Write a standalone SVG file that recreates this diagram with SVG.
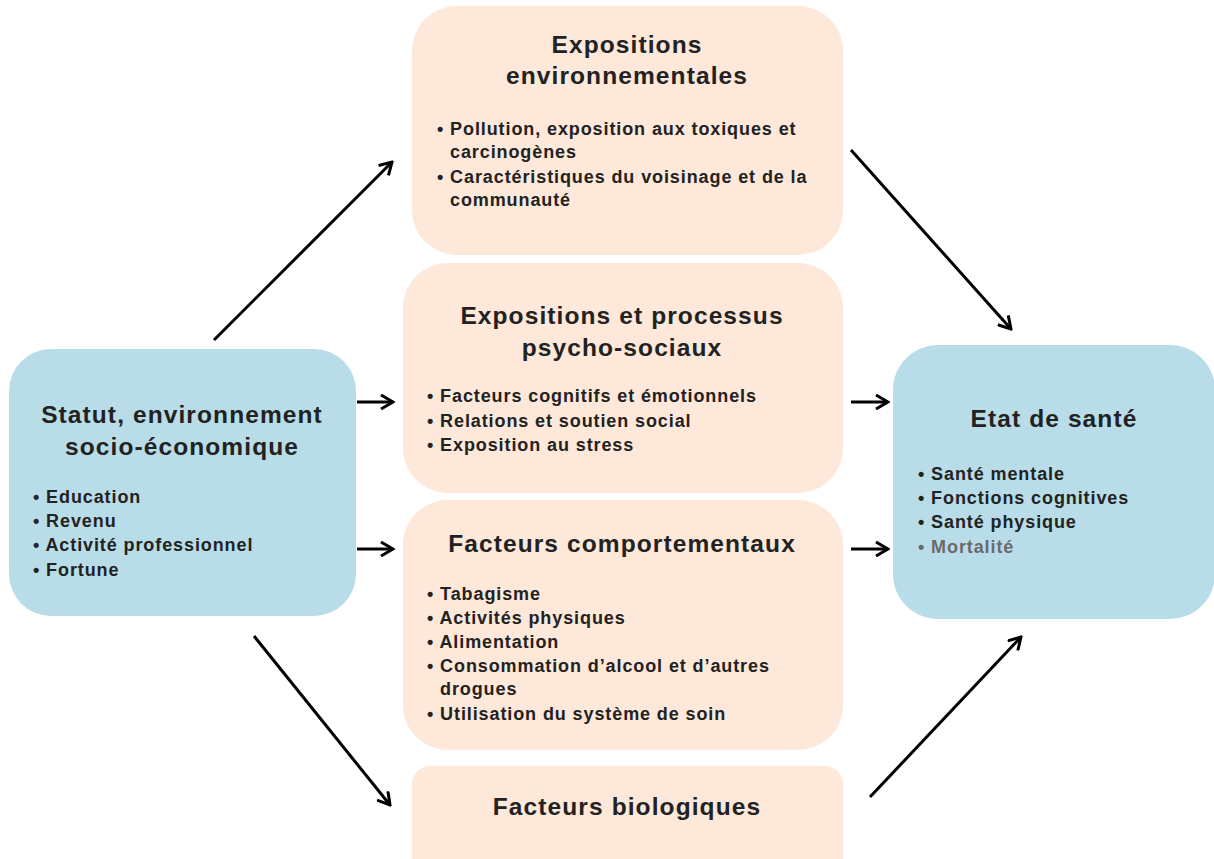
<svg xmlns="http://www.w3.org/2000/svg" width="1214" height="859" viewBox="0 0 1214 859">
<style>
.blue{fill:#b8dde8}
.peach{fill:#fde8d9}
.t{font-family:"Liberation Sans",Arial,Helvetica,sans-serif;font-weight:bold;font-size:24.5px;letter-spacing:1.1px;fill:#222;text-anchor:middle}
.b{font-family:"Liberation Sans",Arial,Helvetica,sans-serif;font-weight:bold;font-size:18px;letter-spacing:0.9px;fill:#222}
.g{fill:#6a6a6a}
.c{stroke:#000;stroke-width:3;fill:none}
</style>
<defs>
<marker id="ah" viewBox="0 0 16 16" refX="14" refY="8" markerWidth="16" markerHeight="16" markerUnits="userSpaceOnUse" orient="auto">
<path d="M2,1 L14,8 L2,15" fill="none" stroke="#000" stroke-width="3"/>
</marker>
</defs>
<rect width="1214" height="859" fill="#fff"/>
<g id="statut">
<rect class="blue" x="9" y="349" width="347" height="267" rx="42"/>
<text class="t" x="182" y="423">Statut, environnement</text>
<text class="t" x="182" y="455">socio-économique</text>
<text class="b" x="33" y="503">• Education</text>
<text class="b" x="33" y="527">• Revenu</text>
<text class="b" x="33" y="551">• Activité professionnel</text>
<text class="b" x="33" y="576">• Fortune</text>
</g>
<g id="env">
<rect class="peach" x="412" y="6" width="431" height="249" rx="45"/>
<text class="t" x="627" y="53">Expositions</text>
<text class="t" x="627" y="84">environnementales</text>
<text class="b" x="437" y="135">• Pollution, exposition aux toxiques et</text>
<text class="b" x="450" y="158">carcinogènes</text>
<text class="b" x="437" y="183">• Caractéristiques du voisinage et de la</text>
<text class="b" x="450" y="206">communauté</text>
</g>
<g id="psycho">
<rect class="peach" x="403" y="263" width="440" height="230" rx="45"/>
<text class="t" x="622" y="324">Expositions et processus</text>
<text class="t" x="622" y="356">psycho-sociaux</text>
<text class="b" x="427" y="402">• Facteurs cognitifs et émotionnels</text>
<text class="b" x="427" y="427">• Relations et soutien social</text>
<text class="b" x="427" y="451">• Exposition au stress</text>
</g>
<g id="comport">
<rect class="peach" x="403" y="500" width="440" height="250" rx="45"/>
<text class="t" x="622" y="552">Facteurs comportementaux</text>
<text class="b" x="427" y="600">• Tabagisme</text>
<text class="b" x="427" y="624">• Activités physiques</text>
<text class="b" x="427" y="648">• Alimentation</text>
<text class="b" x="427" y="672">• Consommation d’alcool et d’autres</text>
<text class="b" x="440" y="695">drogues</text>
<text class="b" x="427" y="720">• Utilisation du système de soin</text>
</g>
<g id="bio">
<rect class="peach" x="412" y="766" width="431" height="110" rx="18"/>
<text class="t" x="627" y="815">Facteurs biologiques</text>
</g>
<g id="sante">
<rect class="blue" x="893" y="345" width="322" height="274" rx="45"/>
<text class="t" x="1054" y="427">Etat de santé</text>
<text class="b" x="918" y="480">• Santé mentale</text>
<text class="b" x="918" y="504">• Fonctions cognitives</text>
<text class="b" x="918" y="528">• Santé physique</text>
<text class="b g" x="918" y="553">• Mortalité</text>
</g>
<g id="connectors">
<line class="c" x1="214" y1="340" x2="392" y2="162" marker-end="url(#ah)"/>
<line class="c" x1="357" y1="402" x2="393" y2="402" marker-end="url(#ah)"/>
<line class="c" x1="357" y1="549" x2="393" y2="549" marker-end="url(#ah)"/>
<line class="c" x1="254" y1="636" x2="390" y2="805" marker-end="url(#ah)"/>
<line class="c" x1="851" y1="150" x2="1011" y2="329" marker-end="url(#ah)"/>
<line class="c" x1="851" y1="402" x2="888" y2="402" marker-end="url(#ah)"/>
<line class="c" x1="851" y1="549" x2="888" y2="549" marker-end="url(#ah)"/>
<line class="c" x1="870" y1="797" x2="1021" y2="637" marker-end="url(#ah)"/>
</g>
</svg>
